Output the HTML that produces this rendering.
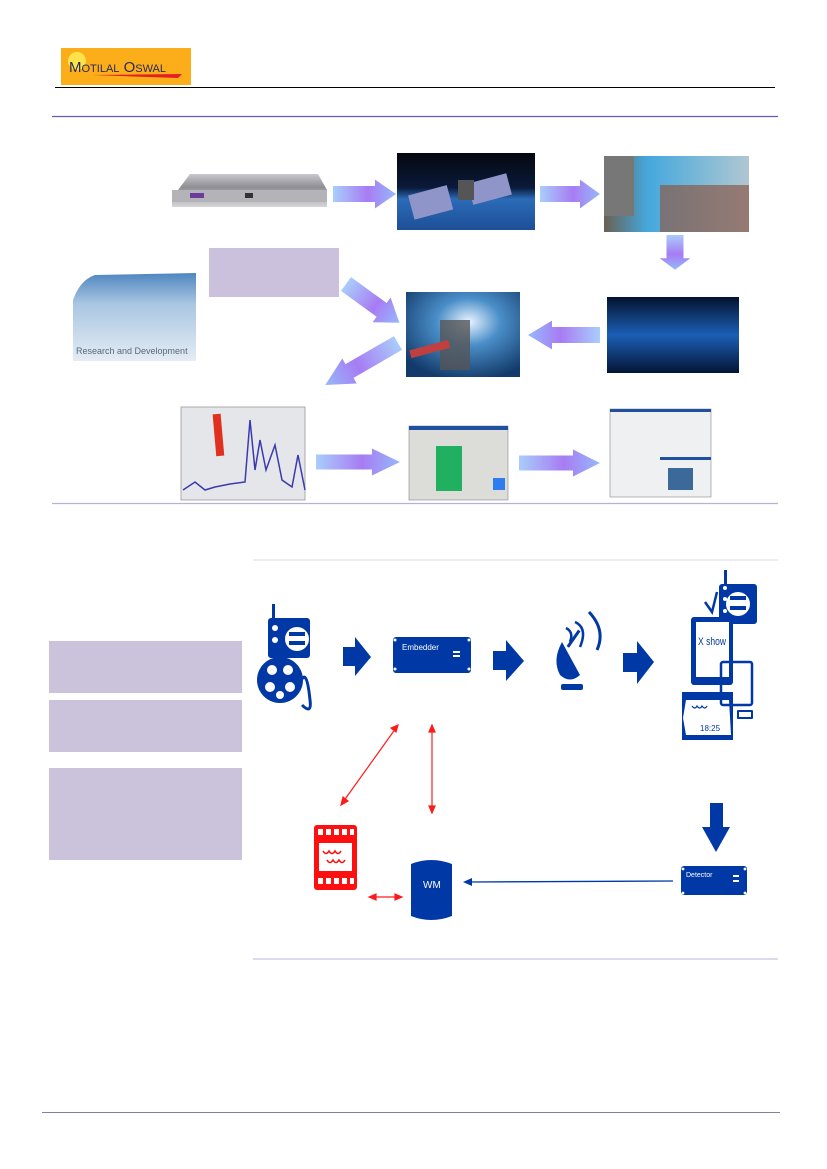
<!DOCTYPE html>
<html><head><meta charset="utf-8"><style>
html,body{margin:0;padding:0;background:#fff}
svg{display:block}
text{font-family:"Liberation Sans",sans-serif}
</style></head><body>
<svg width="827" height="1169" viewBox="0 0 827 1169" xmlns="http://www.w3.org/2000/svg">
<defs>
<linearGradient id="ag" x1="0" x2="1" y1="0" y2="0">
<stop offset="0" stop-color="#a9cdfb"/><stop offset="0.55" stop-color="#a77cf3"/><stop offset="1" stop-color="#96b8fb"/>
</linearGradient>
<linearGradient id="sat" x1="0" y1="0" x2="0" y2="1"><stop offset="0" stop-color="#05070f"/><stop offset="0.45" stop-color="#0a1a3a"/><stop offset="0.6" stop-color="#2b6bb8"/><stop offset="1" stop-color="#1d4f97"/></linearGradient>
<linearGradient id="fam" x1="0" y1="0" x2="1" y2="0"><stop offset="0" stop-color="#6a6050"/><stop offset="0.3" stop-color="#44a8dd"/><stop offset="1" stop-color="#b0c7d2"/></linearGradient>
<radialGradient id="tun" cx="0.55" cy="0.35" r="0.7"><stop offset="0" stop-color="#e8f4ff"/><stop offset="0.4" stop-color="#4a8ec8"/><stop offset="1" stop-color="#123a6a"/></radialGradient>
<linearGradient id="bin" x1="0" y1="0" x2="0" y2="1"><stop offset="0" stop-color="#03122e"/><stop offset="0.5" stop-color="#1b5fb5"/><stop offset="1" stop-color="#041535"/></linearGradient>
<linearGradient id="cld" x1="0" y1="0" x2="0" y2="1"><stop offset="0" stop-color="#4f86c0"/><stop offset="0.35" stop-color="#a9c6e2"/><stop offset="1" stop-color="#e4ecf4"/></linearGradient>
<linearGradient id="srv" x1="0" y1="0" x2="0" y2="1"><stop offset="0" stop-color="#c8c8cc"/><stop offset="0.4" stop-color="#8e8e94"/><stop offset="1" stop-color="#d6d6d8"/></linearGradient>
<g id="harr"><path d="M0,-10 L40,-10 L40,-18 L60,0 L40,18 L40,10 L0,10 Z" fill="url(#ag)"/></g>
</defs>

<rect x="61" y="48" width="130" height="37" fill="#fbae19"/>
<circle cx="77" cy="61" r="9" fill="#fde34a"/>
<text x="69" y="72" font-family="Liberation Serif" font-size="15" fill="#2a2a5a">M<tspan font-size="11">OTILAL</tspan> O<tspan font-size="11">SWAL</tspan></text>
<path d="M92,75 L182,74 L178,78 Z" fill="#e31e24"/>
<line x1="55" y1="87.5" x2="775" y2="87.5" stroke="#000" stroke-width="1"/>
<line x1="52" y1="116.5" x2="778" y2="116.5" stroke="#6a5ab8" stroke-width="1.2"/>

<path d="M178,190 L190,174 L318,174 L327,190 L327,207 L172,207 L172,190 Z" fill="url(#srv)"/>
<rect x="172" y="190" width="155" height="12" fill="#b4b4b8"/>
<rect x="190" y="193" width="14" height="5" fill="#6c3b9b"/>
<rect x="245" y="193" width="8" height="5" fill="#333"/>
<g transform="translate(333,194) scale(1.05,0.8)"><use href="#harr"/></g>
<rect x="397" y="153" width="138" height="77" fill="url(#sat)"/>
<rect x="410" y="190" width="40" height="25" fill="#8f95c8" transform="rotate(-15 430 200)"/>
<rect x="470" y="178" width="40" height="22" fill="#8f95c8" transform="rotate(-15 490 190)"/>
<rect x="458" y="180" width="16" height="20" fill="#555"/>
<g transform="translate(540,194) scale(1.0,0.8)"><use href="#harr"/></g>
<rect x="604" y="156" width="145" height="76" fill="url(#fam)"/>
<rect x="604" y="156" width="30" height="60" fill="#777"/>
<rect x="660" y="185" width="89" height="47" fill="#8a5a4a" opacity="0.7"/>
<g transform="translate(675,235) rotate(90) scale(0.58,0.85)"><use href="#harr"/></g>
<rect x="209" y="248" width="130" height="49" fill="#ccc1dc"/>
<path d="M73,300 Q80,280 95,275 L196,273 L196,361 L73,361 Z" fill="url(#cld)"/>
<text x="76" y="354" font-size="9" fill="#5a6a7a">Research and Development</text>
<g transform="translate(346,284) rotate(36) scale(1.1,0.85)"><use href="#harr"/></g>
<rect x="406" y="292" width="114" height="85" fill="url(#tun)"/>
<rect x="440" y="320" width="30" height="50" fill="#555" opacity="0.8"/>
<rect x="410" y="345" width="40" height="8" fill="#c04040" transform="rotate(-15 430 350)"/>
<rect x="607" y="297" width="132" height="76" fill="url(#bin)"/>
<g transform="translate(600,335) rotate(180) scale(1.2,0.8)"><use href="#harr"/></g>
<g transform="translate(398,343) rotate(150) scale(1.4,0.8)"><use href="#harr"/></g>
<rect x="181" y="407" width="124" height="93" fill="#e4e6ea" stroke="#999" stroke-width="0.8"/>
<path d="M183,490 L195,482 L205,490 L215,487 L230,484 L245,482 L250,420 L255,470 L260,440 L266,470 L275,445 L282,480 L292,487 L298,455 L305,490" fill="none" stroke="#3a3ab0" stroke-width="1.5"/>
<rect x="214" y="414" width="8" height="42" fill="#e03020" transform="rotate(-5 218 430)"/>
<g transform="translate(316,462) scale(1.4,0.75)"><use href="#harr"/></g>
<rect x="409" y="426" width="99" height="74" fill="#dcdcd8" stroke="#888" stroke-width="0.6"/>
<rect x="409" y="426" width="99" height="4" fill="#2050a0"/>
<rect x="436" y="446" width="26" height="45" fill="#20b060"/>
<rect x="493" y="478" width="12" height="12" fill="#2e7cf0"/>
<g transform="translate(519,463) scale(1.35,0.75)"><use href="#harr"/></g>
<rect x="610" y="409" width="101" height="88" fill="#eef0f2" stroke="#888" stroke-width="0.6"/>
<rect x="610" y="409" width="101" height="3" fill="#2050a0"/>
<rect x="660" y="457" width="51" height="3" fill="#2050a0"/>
<rect x="668" y="468" width="25" height="22" fill="#3b6a9a"/>
<line x1="52" y1="503.5" x2="778" y2="503.5" stroke="#b8b0d8" stroke-width="1.2"/>

<rect x="49" y="641" width="193" height="52" fill="#cbc3dc"/>
<rect x="49" y="700" width="193" height="52" fill="#cbc3dc"/>
<rect x="49" y="768" width="193" height="92" fill="#cbc3dc"/>

<line x1="253" y1="560" x2="778" y2="560" stroke="#d8d8e4" stroke-width="1"/>
<line x1="253" y1="959" x2="778" y2="959" stroke="#c8c4e0" stroke-width="1.2"/>

<g fill="#0039a6">
<rect x="272" y="604" width="3" height="16"/>
<rect x="268" y="618" width="42" height="40" rx="3"/>
<circle cx="297" cy="639" r="12" fill="#fff"/>
<rect x="289" y="632" width="16" height="4"/><rect x="289" y="641" width="16" height="4"/>
<circle cx="275" cy="628" r="3" fill="#fff"/><circle cx="275" cy="640" r="3" fill="#fff"/>
<circle cx="280" cy="680" r="23"/>
<circle cx="272" cy="670" r="5" fill="#fff"/><circle cx="288" cy="670" r="5" fill="#fff"/>
<circle cx="270" cy="687" r="5" fill="#fff"/><circle cx="290" cy="687" r="5" fill="#fff"/><circle cx="280" cy="695" r="4" fill="#fff"/>
</g>
<path d="M298,690 Q306,660 310,700 Q312,715 302,705" fill="none" stroke="#0039a6" stroke-width="3"/>
<g fill="#0039a6">
<path d="M343,647 L355,647 L355,637 L371,657 L355,676 L355,666 L343,666 Z"/>
<rect x="393" y="637" width="78" height="36" rx="3"/>
<path d="M493,651 L506,651 L506,640 L524,661 L506,681 L506,670 L493,670 Z"/>
<path d="M623,653 L637,653 L637,641 L654,662 L637,684 L637,672 L623,672 Z"/>
<path d="M562,642 Q552,660 560,675 Q570,684 580,675 Z"/>
<rect x="561" y="684" width="22" height="6" rx="2"/>
<rect x="571" y="628" width="3" height="20" transform="rotate(35 572 640)"/>
<rect x="724" y="570" width="3" height="16"/>
<rect x="719" y="584" width="38" height="40" rx="3"/>
<rect x="691" y="617" width="42" height="68" rx="3"/>
<rect x="682" y="692" width="51" height="48"/>
<rect x="737" y="710" width="16" height="9" rx="1"/>
<path d="M710,803 L723,803 L723,827 L730,827 L716,852 L702,827 L710,827 Z"/>
<rect x="681" y="866" width="66" height="29" rx="3"/>
<path d="M411,864 Q431,856 452,864 L452,916 Q431,924 411,916 Z"/>
<path d="M463,882 L472,878 L472,886 Z"/>
</g>
<g fill="#fff">
<circle cx="395" cy="640" r="1.5"/><circle cx="395" cy="669" r="1.5"/><circle cx="469" cy="640" r="1.5"/><circle cx="469" cy="669" r="1.5"/>
<rect x="453" y="651" width="7" height="2"/><rect x="453" y="655" width="7" height="2"/>
<circle cx="738" cy="604" r="12"/>
<rect x="696" y="622" width="33" height="55"/>
<circle cx="725" cy="588" r="2"/><circle cx="725" cy="599" r="2"/><circle cx="725" cy="611" r="2"/>
<path d="M686,700 L729,700 L731,735 L686,735 L683,718 Z"/>
<rect x="739" y="712" width="12" height="5"/>
<circle cx="683" cy="869" r="1.4"/><circle cx="683" cy="893" r="1.4"/><circle cx="745" cy="869" r="1.4"/><circle cx="745" cy="893" r="1.4"/>
<rect x="733" y="875" width="6" height="2"/><rect x="733" y="880" width="6" height="2"/>
</g>
<g fill="#0039a6"><rect x="730" y="596" width="16" height="4"/><rect x="730" y="606" width="16" height="4"/></g>
<path d="M705,602 L712,612 L717,592" fill="none" stroke="#0039a6" stroke-width="2.5"/>
<rect x="721" y="662" width="31" height="43" fill="none" stroke="#0039a6" stroke-width="2.5" rx="2"/>
<path d="M566,628 Q574,632 570,642 M575,622 Q588,628 580,647" fill="none" stroke="#0039a6" stroke-width="2.5"/>
<path d="M589,612 Q606,630 597,650" fill="none" stroke="#0039a6" stroke-width="3"/>
<text x="402" y="650" font-size="8" fill="#fff">Embedder</text>
<text x="698" y="645" font-size="11" fill="#0039a6" textLength="28" lengthAdjust="spacingAndGlyphs">X show</text>
<text x="700" y="731" font-size="8" fill="#0039a6">18:25</text>
<path d="M692,706 q3,4 5,0 q3,4 5,0 q3,4 5,0" fill="none" stroke="#0039a6" stroke-width="1.2"/>
<text x="686" y="877" font-size="7" fill="#fff">Detector</text>
<text x="423" y="888" font-size="10" fill="#fff">WM</text>
<line x1="470" y1="882" x2="673" y2="881" stroke="#0039a6" stroke-width="1.3"/>

<rect x="314" y="825" width="43" height="65" rx="3" fill="#ff1010"/>
<rect x="319" y="843" width="33" height="28" fill="#fff"/>
<g fill="#fff"><rect x="318" y="829" width="5" height="6"/><rect x="326" y="829" width="5" height="6"/><rect x="334" y="829" width="5" height="6"/><rect x="342" y="829" width="5" height="6"/><rect x="350" y="829" width="4" height="6"/>
<rect x="318" y="878" width="5" height="6"/><rect x="326" y="878" width="5" height="6"/><rect x="334" y="878" width="5" height="6"/><rect x="342" y="878" width="5" height="6"/><rect x="350" y="878" width="4" height="6"/></g>
<path d="M323,851 q3,5 6,0 q3,5 6,0 q3,5 6,0 M327,860 q3,5 6,0 q3,5 6,0 q3,5 6,0" fill="none" stroke="#ff1010" stroke-width="1.6"/>
<g stroke="#ff1a1a" stroke-width="1.2" fill="#ff1a1a">
<line x1="396" y1="728" x2="343" y2="802"/>
<path d="M398,725 L391,728 L396,732 Z"/><path d="M341,805 L343,797 L348,801 Z"/>
<line x1="432" y1="728" x2="432" y2="810"/>
<path d="M432,725 L429,732 L435,732 Z"/><path d="M432,813 L429,806 L435,806 Z"/>
<line x1="372" y1="897" x2="399" y2="897"/>
<path d="M369,897 L376,894 L376,900 Z"/><path d="M402,897 L395,894 L395,900 Z"/>
</g>

<line x1="42" y1="1112.5" x2="780" y2="1112.5" stroke="#8080a0" stroke-width="1"/>
</svg>
</body></html>
